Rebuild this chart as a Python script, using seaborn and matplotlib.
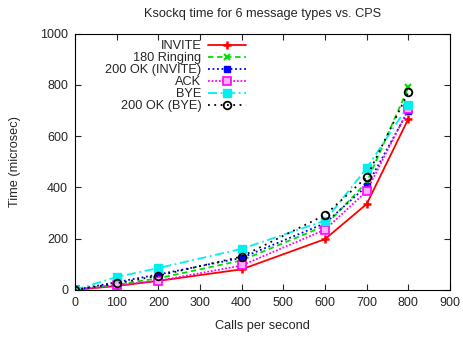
import pandas as pd
import matplotlib
matplotlib.use('Agg')
import matplotlib.pyplot as plt
import seaborn as sns

# data
cps = [0, 100, 200, 400, 600, 700, 800]
invite = [0, 15, 35, 80, 198, 335, 668]
ringing = [0, 20, 45, 115, 250, 420, 790]
ok_invite = [0, 30, 60, 125, 260, 405, 700]
ack = [0, 18, 35, 95, 235, 385, 705]
bye = [0, 50, 85, 160, 270, 475, 720]
ok_bye = [0, 25, 55, 130, 292, 440, 772]

labels = ['INVITE', '180 Ringing', '200 OK (INVITE)', 'ACK', 'BYE', '200 OK (BYE)']
series = [invite, ringing, ok_invite, ack, bye, ok_bye]

sns.set_style('ticks')
plt.rcParams['font.family'] = ['Liberation Sans', 'DejaVu Sans']

styles = [
    dict(color='#ff0000', linestyle='-', marker='+', markersize=6, mew=1.8),
    dict(color='#00e000', linestyle=(0, (3, 2)), marker='x', markersize=5, mew=1.5),
    dict(color='#0000ff', linestyle=(0, (1, 1.5)), marker='s', markersize=5, mew=1),
    dict(color='#ff00ff', linestyle=(0, (1, 1)), marker='s', markersize=6, mew=1.2, mfc='#ffb0ff'),
    dict(color='#00f0f0', linestyle=(0, (5, 2, 1, 2)), marker='s', markersize=6, mew=1),
    dict(color='#000000', linestyle=(0, (1, 2.5)), marker='o', markersize=5.5, mew=1.3, mfc='none'),
]

fig, ax = plt.subplots(figsize=(4.63, 3.37), dpi=100)

for lab, vals, st in zip(labels, series, styles):
    df = pd.DataFrame({'cps': cps, 'time': vals})
    sns.lineplot(data=df, x='cps', y='time', ax=ax, label=lab, lw=1.3,
                 mec=st['color'], **st)

ax.set_xlim(0, 900)
ax.set_ylim(0, 1000)
ax.set_xticks(range(0, 901, 100))
ax.set_yticks(range(0, 1001, 200))
ax.tick_params(direction='in', top=True, right=True, labelsize=9, length=4, width=0.8, pad=5)
for s in ax.spines.values():
    s.set_visible(True)
    s.set_linewidth(0.8)
    s.set_color('black')

ax.set_title('Ksockq time for 6 message types vs. CPS', fontsize=9.2, pad=12)
ax.set_xlabel('Calls per second', fontsize=9.2, labelpad=8)
ax.set_ylabel('Time (microsec)', fontsize=9.2, labelpad=14)

leg = ax.legend(loc='upper left', bbox_to_anchor=(0.05, 1.02), frameon=False,
                markerfirst=False, fontsize=9.2, handlelength=3.0, labelspacing=0.0,
                handletextpad=0.5)

plt.subplots_adjust(left=0.162, right=0.972, bottom=0.14, top=0.9)
plt.savefig('out.png', dpi=100)
